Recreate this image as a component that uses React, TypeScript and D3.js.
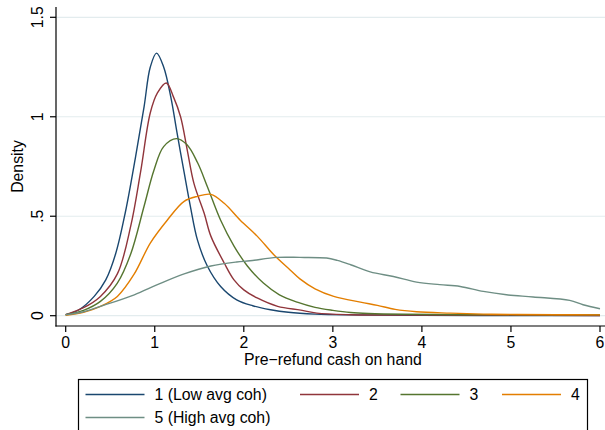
import { useEffect, useRef } from "react"
import * as d3 from "d3"

type Pt = [number, number]

const seriesNames = ["1 (Low avg coh)", "2", "3", "4", "5 (High avg coh)"]
const seriesColors = ["#1a476f", "#90353b", "#55752f", "#e37e00", "#6e8e84"]

const group1: Pt[] = [
  [0, 0.005], [0.15, 0.03], [0.32, 0.097], [0.45, 0.18], [0.56, 0.31], [0.67, 0.52],
  [0.785, 0.8], [0.88, 1.05], [0.95, 1.25], [1.02, 1.32], [1.1, 1.25], [1.18, 1.1],
  [1.25, 0.92], [1.33, 0.72], [1.4, 0.55], [1.48, 0.38], [1.59, 0.25], [1.74, 0.147],
  [1.92, 0.08], [2.1, 0.05], [2.3, 0.03], [2.5, 0.017], [2.8, 0.008], [3.2, 0.004],
  [4, 0.002], [5, 0.001], [6, 0.001],
]
const group2: Pt[] = [
  [0, 0.005], [0.2, 0.04], [0.39, 0.097], [0.58, 0.21], [0.73, 0.45], [0.84, 0.72],
  [0.95, 1.02], [1.03, 1.12], [1.13, 1.17], [1.21, 1.1], [1.29, 1.0], [1.366, 0.83],
  [1.44, 0.665], [1.555, 0.515], [1.63, 0.4], [1.78, 0.265], [1.89, 0.18], [2.0, 0.13],
  [2.15, 0.089], [2.38, 0.047], [2.64, 0.028], [2.82, 0.013], [3.2, 0.005], [4, 0.003],
  [5, 0.002], [6, 0.001],
]
const group3: Pt[] = [
  [0, 0.005], [0.2, 0.027], [0.39, 0.072], [0.58, 0.164], [0.73, 0.31], [0.88, 0.55],
  [0.99, 0.73], [1.1, 0.85], [1.245, 0.89], [1.36, 0.86], [1.48, 0.77], [1.59, 0.65],
  [1.74, 0.48], [1.89, 0.35], [2.04, 0.25], [2.22, 0.164], [2.4, 0.105], [2.6, 0.068],
  [2.8, 0.042], [3.0, 0.027], [3.2, 0.016], [3.4, 0.011], [3.8, 0.007], [4.5, 0.005],
  [5.5, 0.004], [6, 0.004],
]
const group4: Pt[] = [
  [0, 0.002], [0.2, 0.017], [0.39, 0.047], [0.58, 0.097], [0.77, 0.21], [0.95, 0.365],
  [1.14, 0.48], [1.33, 0.575], [1.48, 0.6], [1.63, 0.61], [1.78, 0.565], [1.96, 0.48],
  [2.15, 0.4], [2.34, 0.305], [2.52, 0.23], [2.63, 0.185], [2.8, 0.135], [3.01, 0.097],
  [3.31, 0.068], [3.5, 0.052], [3.7, 0.032], [3.94, 0.02], [4.32, 0.013], [4.69, 0.008],
  [5.07, 0.006], [5.5, 0.005], [6, 0.004],
]
const group5: Pt[] = [
  [0, 0.005], [0.2, 0.02], [0.39, 0.047], [0.77, 0.105], [1.03, 0.156], [1.33, 0.21],
  [1.63, 0.25], [1.92, 0.27], [2.07, 0.276], [2.37, 0.293], [2.63, 0.293], [2.93, 0.29],
  [3.05, 0.278], [3.2, 0.256], [3.42, 0.22], [3.68, 0.197], [3.94, 0.169], [4.2, 0.156],
  [4.43, 0.147], [4.69, 0.122], [4.95, 0.105], [5.25, 0.094], [5.66, 0.077], [5.81, 0.055],
  [6, 0.035],
]
const allSeries = [group1, group2, group3, group4, group5]

const xTicks = [0, 1, 2, 3, 4, 5, 6]
const yTicks = [0, 0.5, 1, 1.5]
const yTickLabels = ["0", ".5", "1", "1.5"]

const FONT = "'Liberation Sans', Arial, Helvetica, sans-serif"
const FS = 15.8

export default function App() {
  const svgRef = useRef<SVGSVGElement>(null)

  useEffect(() => {
    if (!svgRef.current) return
    const svg = d3.select(svgRef.current)
    svg.selectAll("*").remove()

    const x = d3.scaleLinear().domain([0, 6]).range([65.7, 600])
    const y = d3.scaleLinear().domain([0, 1.5]).range([315.7, 17.3])

    svg.append("rect").attr("width", 605).attr("height", 430).attr("fill", "#fff")

    // gridlines
    svg
      .append("g")
      .selectAll("line")
      .data(yTicks)
      .enter()
      .append("line")
      .attr("x1", 56)
      .attr("x2", 605)
      .attr("y1", (d) => y(d))
      .attr("y2", (d) => y(d))
      .attr("stroke", "#e3ecee")
      .attr("stroke-width", 1.2)

    // curves
    const line = d3
      .line<Pt>()
      .x((d) => x(d[0]))
      .y((d) => y(d[1]))
      .curve(d3.curveCatmullRom.alpha(0.5))

    svg
      .append("g")
      .selectAll("path")
      .data(allSeries)
      .enter()
      .append("path")
      .attr("d", (d) => line(d))
      .attr("fill", "none")
      .attr("stroke", (_, i) => seriesColors[i])
      .attr("stroke-width", 1.4)
      .attr("stroke-linejoin", "round")

    // axes lines
    svg.append("line").attr("x1", 56).attr("x2", 56).attr("y1", 7).attr("y2", 326.5)
      .attr("stroke", "#000").attr("stroke-width", 1.2)
    svg.append("line").attr("x1", 55.4).attr("x2", 605).attr("y1", 326).attr("y2", 326)
      .attr("stroke", "#000").attr("stroke-width", 1.2)

    // x ticks
    const xg = svg.append("g")
    xg.selectAll("line")
      .data(xTicks)
      .enter()
      .append("line")
      .attr("x1", (d) => x(d))
      .attr("x2", (d) => x(d))
      .attr("y1", 326)
      .attr("y2", 332)
      .attr("stroke", "#000")
      .attr("stroke-width", 1.2)
    xg.selectAll("text")
      .data(xTicks)
      .enter()
      .append("text")
      .attr("x", (d) => x(d))
      .attr("y", 347.5)
      .attr("text-anchor", "middle")
      .attr("font-family", FONT)
      .attr("font-size", FS)
      .text((d) => String(d))

    // y ticks
    const yg = svg.append("g")
    yg.selectAll("line")
      .data(yTicks)
      .enter()
      .append("line")
      .attr("x1", 50)
      .attr("x2", 56)
      .attr("y1", (d) => y(d))
      .attr("y2", (d) => y(d))
      .attr("stroke", "#000")
      .attr("stroke-width", 1.2)
    yg.selectAll("text")
      .data(yTicks)
      .enter()
      .append("text")
      .attr("transform", (d) => `translate(43, ${y(d)}) rotate(-90)`)
      .attr("text-anchor", "middle")
      .attr("font-family", FONT)
      .attr("font-size", FS)
      .text((_, i) => yTickLabels[i])

    // axis titles
    svg.append("text")
      .attr("transform", `translate(23, ${(y(0) + y(1.5)) / 2}) rotate(-90)`)
      .attr("text-anchor", "middle")
      .attr("font-family", FONT)
      .attr("font-size", FS)
      .text("Density")
    svg.append("text")
      .attr("x", (x(0) + x(6)) / 2)
      .attr("y", 365)
      .attr("text-anchor", "middle")
      .attr("font-family", FONT)
      .attr("font-size", FS)
      .text("Pre\u2212refund cash on hand")

    // legend
    svg.append("rect")
      .attr("x", 78.5)
      .attr("y", 379.5)
      .attr("width", 509)
      .attr("height", 70)
      .attr("fill", "#fff")
      .attr("stroke", "#000")
      .attr("stroke-width", 1.2)

    const keyX = [85.5, 300, 400.5, 502, 85.5]
    const keyY = [394.5, 394.5, 394.5, 394.5, 417.5]
    const keys = svg
      .append("g")
      .selectAll("g")
      .data(seriesNames)
      .enter()
      .append("g")
      .attr("transform", (_, i) => `translate(${keyX[i]}, ${keyY[i]})`)
    keys.append("line")
      .attr("x1", 0)
      .attr("x2", 59)
      .attr("stroke", (_, i) => seriesColors[i])
      .attr("stroke-width", 1.4)
    keys.append("text")
      .attr("x", 69)
      .attr("y", 5.5)
      .attr("font-family", FONT)
      .attr("font-size", FS)
      .text((d) => d)
  }, [])

  return (
    <svg
      ref={svgRef}
      width={605}
      height={430}
      style={{ position: "absolute", left: 0, top: 0, display: "block" }}
    />
  )
}
